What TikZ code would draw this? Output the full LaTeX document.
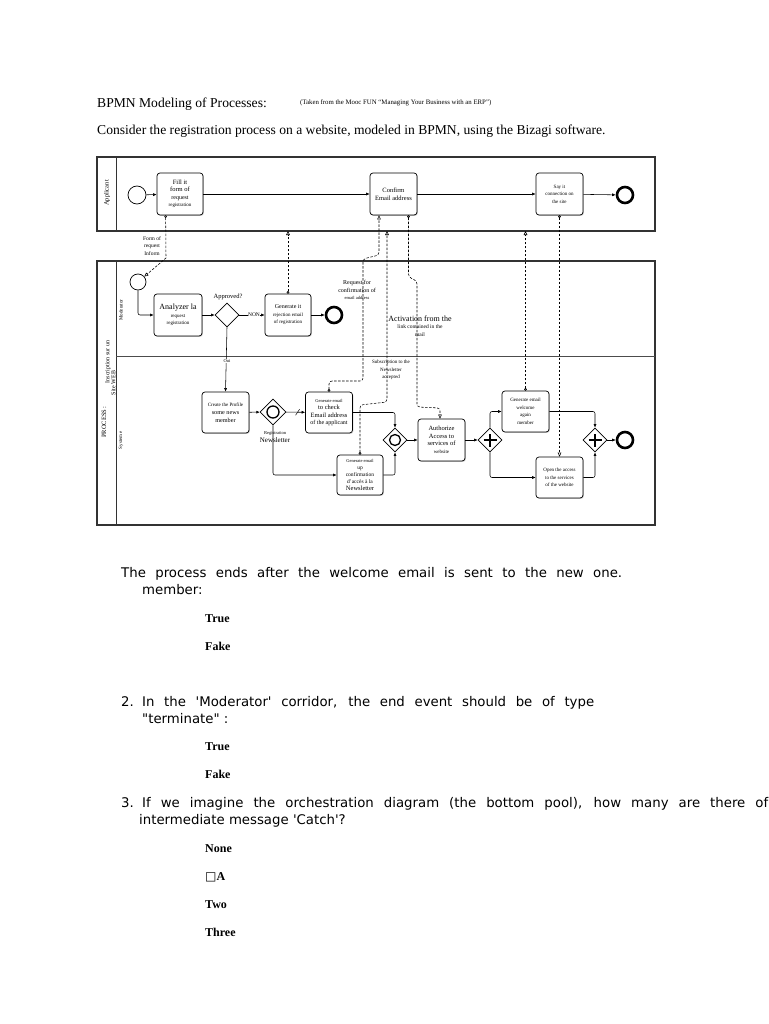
\documentclass[tikz,border=0pt]{standalone}
\usepackage{fontspec}
\setmainfont{Liberation Serif}
\newfontfamily\qfont{DejaVu Sans}
\newfontfamily\symfont{DejaVu Sans}
\usetikzlibrary{arrows.meta,shapes.geometric,shadows}
\newcommand\fsz[1]{\fontsize{#1}{7.5}\selectfont}
\begin{document}
\begin{tikzpicture}[x=1pt,y=-1pt,
  pool/.style={draw=black!80, line width=1.4pt, inner sep=0pt, outer sep=0pt, anchor=north west},
  task/.style={draw, rounded corners=3pt, line width=0.7pt, fill=white, inner sep=0pt, align=center,
    drop shadow={shadow xshift=0.9pt, shadow yshift=-0.9pt, fill=black!40},
    minimum width=47pt, minimum height=41pt, font=\fsz{6}},
  startev/.style={circle, draw, line width=0.7pt, minimum size=18pt, inner sep=0pt, fill=white},
  endev/.style={circle, draw, line width=2.6pt, minimum size=15pt, inner sep=0pt, fill=white},
  gw/.style={diamond, draw, line width=0.7pt, minimum size=24pt, inner sep=0pt, fill=white},
  seq/.style={line width=0.55pt, -{Latex[length=3.5pt,width=3pt]}},
  msg/.style={line width=0.55pt, dash pattern=on 2.5pt off 1.5pt,
    {Circle[open,length=2.6pt,width=2.6pt]}-{Triangle[open,length=4pt,width=3.6pt]}},
  lbl/.style={inner sep=0pt, align=center, font=\fsz{5}},
  hdr/.style={inner sep=0pt, anchor=base west},
  qtext/.style={inner sep=0pt, anchor=base west, font=\qfont\fontsize{13.3}{16}\selectfont},
  ans/.style={inner sep=0pt, anchor=base west, font=\bfseries\fontsize{12}{14}\selectfont},
]
\useasboundingbox[fill=white] (0,0) rectangle (768,1024);

% ---------- header ----------
\node[hdr, font=\fontsize{13.6}{16}\selectfont] (title) at (97,107.5) {BPMN Modeling of Processes:};
\node[hdr, font=\fontsize{6.8}{8}\selectfont] (source) at (300,105) {(Taken from the Mooc FUN ``Managing Your Business with an ERP'')};
\node[hdr, font=\fontsize{13.6}{16}\selectfont] (intro) at (97,134.5) {Consider the registration process on a website, modeled in BPMN, using the Bizagi software.};

% ---------- pools ----------
\node[pool, minimum width=558pt, minimum height=74pt] (app) at (97,157) {};
\node[pool, minimum width=558pt, minimum height=264pt] (proc) at (97,261) {};
\draw[line width=0.7pt, black!80] ([xshift=19pt]app.north west) -- ([xshift=19pt]app.south west);
\draw[line width=0.7pt, black!80] ([xshift=19pt]proc.north west) -- ([xshift=19pt]proc.south west);
\coordinate (lane) at (116,356);
\draw[line width=0.6pt, black!70] (lane) -- (lane -| proc.east);

\node[lbl, rotate=90, font=\fsz{6.5}] (applbl) at (107,193) {Applicant};
\node[lbl, rotate=90, font=\fsz{6.5}] (proclbl) at (104,422) {PROCESS :};
\node[lbl, rotate=90, font=\fsz{6}] (proclbl2) at (108,362) {Inscription sur un};
\node[lbl, rotate=90, font=\fsz{6}] (proclbl3) at (113.5,383) {Site WEB};
\node[lbl, rotate=90, font=\fsz{5}] (modlbl) at (121,310) {Moderator};
\node[lbl, rotate=90, font=\fsz{5}] (syslbl) at (121,440) {System e};

% ---------- Applicant lane ----------
\node[startev] (as) at (137,195) {};
\node[task, minimum width=46pt, minimum height=42pt, font=\fsz{6.5}] (fill) at (180,194)
  {Fill it\\form of\\{\fsz{6}request}\\{\fsz{5}registration}};
\node[task, minimum height=42pt, font=\fsz{6.5}] (conf) at (393.5,194) {Confirm\\Email address};
\node[task, minimum height=42pt, font=\fsz{5}] (say) at (559.5,194) {Say it\\connection on\\the site};
\node[endev, minimum size=16pt] (ae) at (625,195) {};

\draw[seq] (as) -- (fill);
\draw[seq] (fill) -- (conf);
\draw[seq] (conf) -- (say);
\draw[seq] (say) -- (ae);

% ---------- Moderator lane ----------
\node[startev, minimum size=16pt] (ms) at (138,282) {};
\node[task, minimum width=48pt, minimum height=42pt] (ana) at (178,315)
  {{\fsz{8}Analyzer la}\\{\fsz{5}request}\\{\fsz{5}registration}};
\node[gw] (g1) at (227,315) {};
\node[lbl, font=\fsz{6.5}] (g1lbl) at (228,297) {Approved?};
\node[task, minimum width=46pt, minimum height=42pt] (rej) at (288,315)
  {{\fsz{6}Generate it}\\{\fsz{5}rejection email}\\{\fsz{5}of registration}};
\node[endev, minimum size=16pt] (me) at (334,315) {};

\draw[seq, rounded corners=2pt] (ms.south) |- (ana.west);
\draw[seq] (ana) -- (g1);
\draw[seq] (g1) -- node[lbl, fill=white, font=\fsz{5.5}, xshift=2pt] (nonlbl) {NON} (rej);
\draw[seq] (rej) -- (me);

% ---------- System lane ----------
\node[task] (prof) at (225.5,412.5)
  {{\fsz{5}Create the Profile}\\[1pt]{\fsz{6.2}some news}\\{\fsz{6.2}member}};
\node[gw, minimum size=26pt] (eg1) at (273,412) {};
\draw[line width=1.3pt] (eg1.center) circle (6pt);
\node[lbl, align=center] (eglbl) at (275,437)
  {{\fsz{4.5}Registration}\\{\fontsize{7}{8}\selectfont Newsletter}};
\node[task] (chk) at (329,412.5)
  {{\fsz{4.5}Generate email}\\{\fsz{6.5}to check}\\{\fsz{6.5}Email address}\\{\fsz{6}of the applicant}};
\node[task, minimum width=46pt, minimum height=40pt, font=\fontsize{5.5}{7}\selectfont] (cnf) at (360,475)
  {{\fontsize{4.5}{7}\selectfont Generate email}\\up\\confirmation\\d'accès à la\\{\fontsize{6.5}{7.5}\selectfont Newsletter}};
\node[gw] (eg2) at (395,440) {};
\draw[line width=1.3pt] (eg2.center) circle (5.5pt);
\node[task, minimum height=42pt, font=\fsz{6.5}] (aut) at (441.5,440)
  {Authorize\\Access to\\services of\\{\fsz{5}website}};
\node[gw] (p1) at (490,440) {};
\draw[line width=2.4pt] ([xshift=-6.5pt]p1.center) -- ([xshift=6.5pt]p1.center);
\draw[line width=2.4pt] ([yshift=-6.5pt]p1.center) -- ([yshift=6.5pt]p1.center);
\node[task, font=\fsz{5}] (wel) at (525.5,411.5) {Generate email\\welcome\\again\\member};
\node[task, font=\fsz{5}] (opn) at (559.5,477.5) {Open the access\\to the services\\of the website};
\node[gw] (p2) at (595,440) {};
\draw[line width=2.4pt] ([xshift=-6.5pt]p2.center) -- ([xshift=6.5pt]p2.center);
\draw[line width=2.4pt] ([yshift=-6.5pt]p2.center) -- ([yshift=6.5pt]p2.center);
\node[endev, minimum size=16pt] (pe) at (625,440) {};

\draw[seq] (g1.south) -- (prof.north);
\node[lbl, fill=white, font=\fsz{4.5}, inner sep=0.5pt] (ouilbl) at (227,361) {Oui};
\draw[seq] (prof) -- (eg1);
\draw[seq] (eg1) -- coordinate[pos=0.6] (dslash) (chk);
\draw[line width=0.5pt] ([shift={(-2,3)}]dslash) -- ([shift={(2,-3)}]dslash);
\draw[seq, rounded corners=2pt] (eg1.south) |- (cnf.west);
\draw[seq, rounded corners=2pt] (chk.east) -| (eg2.north);
\draw[seq, rounded corners=2pt] (cnf.east) -| (eg2.south);
\draw[seq] (eg2) -- (aut);
\draw[seq] (aut) -- (p1);
\draw[seq, rounded corners=2pt] (p1.north) |- (wel.west);
\draw[seq, rounded corners=2pt] (p1.south) |- (opn.west);
\draw[seq, rounded corners=2pt] (wel.east) -| (p2.north);
\draw[seq, rounded corners=2pt] (opn.east) -| (p2.south);
\draw[seq] (p2) -- (pe);

% ---------- message flows ----------
\coordinate (m1a) at (166,258);
\draw[msg] ([xshift=9pt]fill.south west) -- (m1a) -- (ms);
\node[lbl, font=\fsz{5.5}, align=center] (formlbl) at (152,246) {Form of\\request\\Inform};

\draw[msg] (rej.north) -- (rej.north |- app.south);

\coordinate (m3a) at (329,381);
\coordinate (m3b) at (363,381);
\coordinate (m3c) at (363,259);
\coordinate (m3d) at (379,255);
\draw[msg, rounded corners=3pt] (chk.north) -- (m3a) -- (m3b) -- (m3c) -- (m3d) -- ([xshift=-14.5pt]conf.south);
\node[lbl, font=\fsz{6}, align=center] (reqlbl) at (357,290)
  {Request for\\confirmation of\\{\fsz{4.5}email address}};

\coordinate (m4a) at (360,405);
\coordinate (m4b) at (387,402);
\draw[msg, rounded corners=3pt] (cnf.north) -- (m4a) -- (m4b) -- (m4b |- app.south);
\node[lbl, font=\fsz{5}, align=center] (sublbl) at (391,370)
  {Subscription to the\\Newsletter\\accepted};

\coordinate (m5a) at (408.5,277);
\coordinate (m5b) at (417,281);
\coordinate (m5c) at (417,407);
\coordinate (m5d) at (440,408);
\draw[msg, rounded corners=3pt] ([xshift=15pt]conf.south) -- (m5a) -- (m5b) -- (m5c) -- (m5d) -- (m5d |- aut.north);
\node[lbl, align=center] (actlbl) at (420,326)
  {{\fontsize{8}{9}\selectfont Activation from the}\\{\fsz{5.5}link contained in the}\\{\fsz{5.5}mail}};

\draw[msg] (wel.north) -- (wel.north |- app.south);
\draw[msg] (say.south) -- (opn.north);

% ---------- questions ----------
\node[qtext] (q1a) at (121,577) {\makebox[501pt][s]{The process ends after the welcome email is sent to the new one.}};
\node[qtext] (q1b) at (142,594) {member:};
\node[ans] (a1t) at (205,622) {True};
\node[ans] (a1f) at (205,650) {Fake};

\node[qtext] (q2n) at (121,706) {2.};
\node[qtext] (q2a) at (142,706) {\makebox[452pt][s]{In the \textquotesingle Moderator\textquotesingle\ corridor, the end event should be of type}};
\node[qtext] (q2b) at (142,723) {\textquotedbl terminate\textquotedbl\ :};
\node[ans] (a2t) at (205,750) {True};
\node[ans] (a2f) at (205,778) {Fake};

\node[qtext] (q3n) at (121,807) {3.};
\node[qtext] (q3a) at (142,807) {\makebox[626pt][s]{If we imagine the orchestration diagram (the bottom pool), how many are there of}};
\node[qtext] (q3b) at (139,824) {intermediate message \textquotesingle Catch\textquotesingle ?};
\node[ans] (a3a) at (205,852) {None};
\node[ans] (a3b) at (205,880) {{\symfont\mdseries □}A};
\node[ans] (a3c) at (205,908) {Two};
\node[ans] (a3d) at (205,936) {Three};
\end{tikzpicture}
\end{document}
